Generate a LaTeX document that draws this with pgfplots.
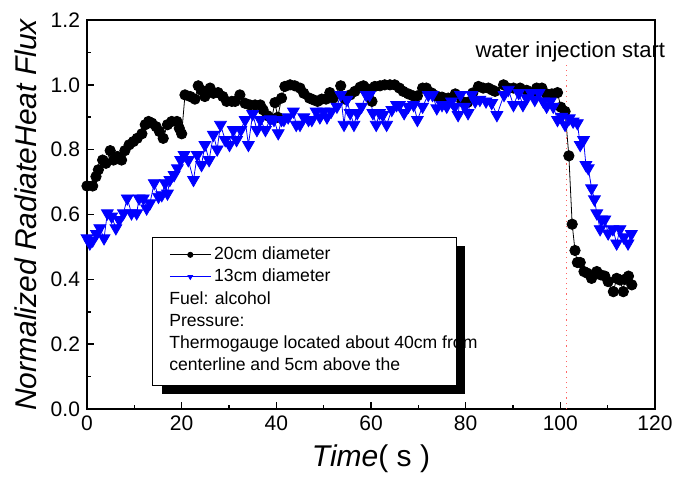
\documentclass[border=0pt]{standalone}
\usepackage{pgfplots}
\pgfplotsset{compat=1.18}
\usepackage{fontspec}
\setmainfont{Liberation Sans}

\pgfplotstableread{
t y
0.0 0.688
1.2 0.688
1.9 0.717
2.4 0.738
3.3 0.768
4.0 0.758
4.9 0.797
5.6 0.768
6.4 0.779
7.3 0.768
8.0 0.797
8.9 0.815
9.8 0.825
10.6 0.835
11.6 0.849
12.3 0.877
13.0 0.887
13.7 0.882
14.6 0.871
15.3 0.856
16.1 0.835
17.0 0.877
17.9 0.887
19.0 0.887
19.5 0.866
20.0 0.849
20.7 0.969
21.8 0.964
22.8 0.956
23.5 0.997
24.2 0.983
24.9 0.964
26.0 0.990
26.7 0.974
27.7 0.976
28.7 0.964
29.5 0.949
30.6 0.949
31.3 0.949
32.3 0.969
33.4 0.943
34.4 0.938
35.5 0.938
36.6 0.938
37.2 0.923
38.1 0.905
39.0 0.895
39.7 0.945
40.3 0.900
41.1 0.959
41.8 0.995
42.9 1.000
43.9 0.997
45.0 0.990
45.8 0.974
47.0 0.959
47.8 0.954
48.7 0.949
49.6 0.956
50.5 0.956
51.3 0.976
52.0 0.959
53.6 0.997
54.5 0.956
55.6 0.969
56.6 0.980
57.7 0.993
58.4 0.997
59.4 0.987
60.2 0.949
60.8 0.995
61.9 0.997
62.9 1.000
64.0 1.000
65.0 1.000
66.0 0.990
66.8 0.980
67.9 0.972
68.9 0.966
69.8 0.966
70.9 0.990
71.7 0.990
72.8 0.975
73.8 0.966
75.0 0.962
76.3 0.959
77.8 0.972
79.2 0.949
80.4 0.946
81.5 0.975
82.7 0.995
83.7 0.990
84.8 0.990
85.6 0.984
86.2 0.980
88.0 1.000
89.0 0.990
90.1 0.990
91.5 0.990
92.9 0.983
94.0 0.974
95.0 0.990
96.1 0.990
97.1 0.972
98.2 0.972
99.4 0.976
100.1 0.931
101.0 0.918
101.8 0.781
102.5 0.570
103.1 0.489
103.6 0.452
104.2 0.452
105.0 0.424
105.7 0.419
106.6 0.403
107.7 0.424
108.5 0.414
109.4 0.410
110.1 0.393
111.2 0.362
111.9 0.403
112.6 0.398
113.3 0.362
113.6 0.400
114.4 0.410
115.1 0.383
}\dataA

\pgfplotstableread{
t y
0.0 0.527
0.6 0.511
1.2 0.520
2.0 0.540
2.7 0.558
3.6 0.527
4.3 0.604
5.2 0.594
6.1 0.558
6.8 0.583
7.7 0.604
8.5 0.650
9.4 0.604
10.5 0.604
11.0 0.650
11.9 0.650
12.6 0.619
13.3 0.635
14.2 0.697
15.1 0.655
15.8 0.660
16.5 0.697
17.0 0.665
17.5 0.707
18.4 0.722
19.1 0.743
19.8 0.768
20.5 0.784
21.4 0.768
22.5 0.707
23.3 0.784
24.2 0.753
24.9 0.815
25.8 0.768
26.7 0.846
27.5 0.801
28.2 0.877
29.2 0.830
30.1 0.815
30.9 0.861
31.6 0.830
32.5 0.861
33.4 0.892
34.1 0.815
35.0 0.910
35.9 0.861
36.6 0.892
37.7 0.861
38.7 0.894
39.5 0.892
40.4 0.851
41.1 0.892
41.6 0.892
42.5 0.900
43.6 0.918
44.2 0.877
45.0 0.877
45.8 0.900
46.8 0.892
47.5 0.892
48.4 0.918
49.2 0.900
50.0 0.918
50.7 0.900
51.6 0.918
52.8 0.933
53.6 0.969
54.3 0.877
54.9 0.954
55.6 0.913
56.4 0.877
57.1 0.913
58.0 0.933
59.0 0.969
59.7 0.969
60.4 0.913
61.1 0.877
61.8 0.913
62.5 0.907
63.3 0.877
64.4 0.923
65.4 0.938
66.0 0.938
67.0 0.913
67.9 0.933
69.0 0.938
69.8 0.892
70.9 0.933
72.1 0.969
73.0 0.969
73.9 0.928
75.0 0.938
76.0 0.933
77.0 0.949
77.7 0.933
78.4 0.907
78.9 0.969
79.8 0.933
80.5 0.913
81.3 0.969
82.0 0.949
83.0 0.954
84.3 0.949
85.5 0.944
86.6 0.907
88.1 0.969
89.0 0.985
90.1 0.938
91.2 0.975
92.1 0.938
92.9 0.959
93.8 0.975
94.6 0.954
95.5 0.975
96.4 0.949
97.1 0.933
97.9 0.949
98.5 0.933
99.4 0.892
100.3 0.902
101.0 0.877
101.9 0.897
102.7 0.887
103.6 0.882
104.2 0.815
104.9 0.830
105.4 0.753
105.9 0.743
106.6 0.681
107.2 0.647
107.7 0.604
108.4 0.555
108.7 0.585
109.4 0.585
110.1 0.542
111.1 0.555
111.9 0.511
112.6 0.555
113.4 0.530
114.3 0.511
115.0 0.540
}\dataB

\begin{document}
\begin{tikzpicture}
\useasboundingbox (-43.5pt,-40pt) rectangle (295.5pt,204.5pt);
\begin{axis}[
  scale only axis, width=284pt, height=194.5pt,
  xmin=0, xmax=120, ymin=0, ymax=1.2,
  xtick={0,20,40,60,80,100,120},
  ytick={0,0.2,0.4,0.6,0.8,1.0,1.2},
  minor x tick num=1, minor y tick num=1,
  tick pos=left, tick align=inside,
  major tick length=3.5pt, minor tick length=2.2pt,
  axis line style={line width=1pt},
  every tick/.style={black, line width=0.8pt},
  yticklabel style={/pgf/number format/.cd, fixed, fixed zerofill, precision=1},
  /pgf/number format/assume math mode=true,
  tick label style={font=\fontsize{10.5}{12}\selectfont},
  xlabel={\textit{Time}( s )},
  ylabel={\textit{Normalized RadiateHeat Flux}},
  label style={font=\fontsize{15}{18}\selectfont},
  xlabel style={yshift=0pt},
  ylabel style={yshift=0pt},
  clip=false,
  legend image code/.code={%
    \draw[#1, mark=none] (0cm,0cm) -- (0.72cm,0cm);
    \draw[#1, mark size=1.3pt, only marks] plot coordinates {(0.36cm,0cm)};},
  legend style={at={(rel axis cs:0.1444,0.4257)}, anchor=north west, draw=none, fill=none,
    font=\fontsize{8.8}{11}\selectfont, inner sep=0pt, row sep=0pt,
    nodes={inner xsep=1.5pt, inner ysep=0pt, text height=8pt, text depth=3pt}},
  legend cell align=left,
]
\addplot[black, line width=0.4pt, mark=*, mark size=2.6pt, mark options={fill=black}] table[x=t, y=y] {\dataA};
\addlegendentry{20cm diameter}
\addplot[blue, line width=0.4pt, mark=triangle*, mark size=3.4pt, mark options={rotate=180, fill=blue}] table[x=t, y=y] {\dataB};
\addlegendentry{13cm diameter}

\draw[red!60, dotted, line width=0.6pt] (axis cs:101.3,0) -- (axis cs:101.3,1.062);
\node[anchor=base west, inner sep=0pt, font=\fontsize{11}{13}\selectfont] at (axis cs:82.0,1.083) {water injection start};

\fill[black] (axis cs:15.84,0.046) rectangle (axis cs:79.86,0.503);
\draw[black, fill=white, line width=0.5pt] (axis cs:13.94,0.074) rectangle (axis cs:77.96,0.5306);
\begin{scope}[every node/.style={anchor=base west, inner sep=0pt, font=\fontsize{8.8}{11}\selectfont}]
\node at (axis cs:17.3,0.3239) {Fuel: alcohol};
\node at (axis cs:17.3,0.2560) {Pressure:};
\node at (axis cs:17.3,0.1882) {Thermogauge located about 40cm from};
\node at (axis cs:17.3,0.1203) {centerline and 5cm above the};
\end{scope}
\end{axis}
\end{tikzpicture}
\end{document}
